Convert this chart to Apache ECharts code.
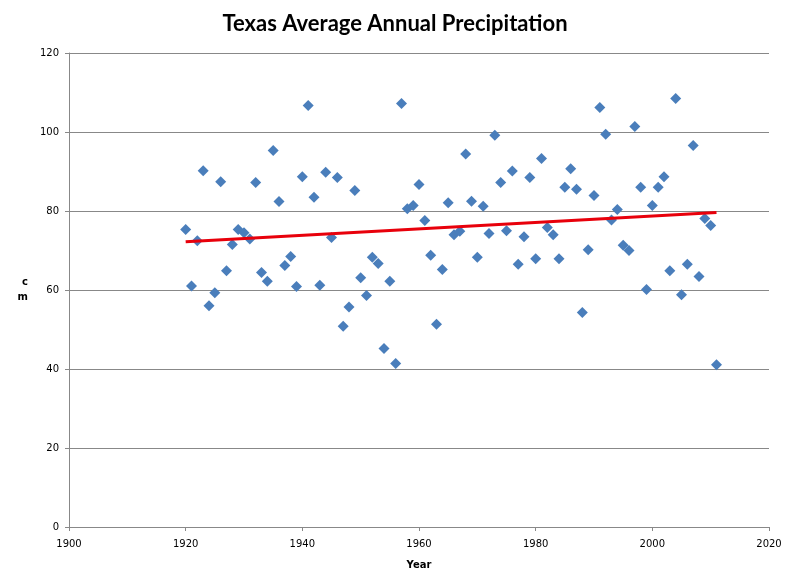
<!DOCTYPE html>
<html>
<head>
<meta charset="utf-8">
<script src="https://cdn.jsdelivr.net/npm/echarts@6/dist/echarts.min.js"></script>
<style>
html,body{margin:0;padding:0;background:#fff;}
#chart{width:790px;height:580px;}
</style>
</head>
<body>
<div id="chart"></div>
<script>
const years = [1920,1921,1922,1923,1924,1925,1926,1927,1928,1929,1930,1931,1932,1933,1934,1935,1936,1937,1938,1939,
1940,1941,1942,1943,1944,1945,1946,1947,1948,1949,1950,1951,1952,1953,1954,1955,1956,1957,1958,1959,
1960,1961,1962,1963,1964,1965,1966,1967,1968,1969,1970,1971,1972,1973,1974,1975,1976,1977,1978,1979,
1980,1981,1982,1983,1984,1985,1986,1987,1988,1989,1990,1991,1992,1993,1994,1995,1996,1997,1998,1999,
2000,2001,2002,2003,2004,2005,2006,2007,2008,2009,2010,2011];
const precipitation = [75.3,61.0,72.5,90.2,56.0,59.3,87.4,64.9,71.5,75.3,74.5,72.9,87.2,64.4,62.2,95.3,82.4,66.2,68.5,60.9,
88.7,106.7,83.5,61.2,89.8,73.3,88.5,50.8,55.7,85.2,63.1,58.6,68.3,66.7,45.2,62.2,41.4,107.2,80.6,81.4,
86.7,77.6,68.8,51.3,65.2,82.1,74.0,74.9,94.4,82.5,68.3,81.2,74.3,99.2,87.2,75.0,90.1,66.5,73.5,88.5,
67.9,93.3,75.8,74.0,67.9,86.0,90.7,85.5,54.3,70.2,83.9,106.2,99.4,77.7,80.4,71.3,70.0,101.4,86.0,60.1,
81.4,86.0,88.7,64.9,108.5,58.8,66.5,96.6,63.4,78.1,76.3,41.1];
const trendYears = [1920, 2011];
const trendValues = [72.2, 79.6];
const yTicks = [0,20,40,60,80,100,120];
const xTicks = [1900,1920,1940,1960,1980,2000,2020];

const chart = echarts.init(document.getElementById('chart'));
chart.setOption({
  animation:false,
  backgroundColor:'#ffffff',
  title:{
    text:'Texas Average Annual Precipitation',
    left:'center', top:8,
    textStyle:{fontFamily:'Lato', fontWeight:'bold', fontSize:22, color:'#000'}
  },
  grid:{left:69, right:21, top:53, bottom:53},
  xAxis:{
    type:'value', min:xTicks[0], max:xTicks[xTicks.length-1], interval:20,
    name:'Year', nameLocation:'middle', nameGap:33,
    nameTextStyle:{fontFamily:'DejaVu Sans', fontWeight:'bold', fontSize:10, color:'#000'},
    axisLine:{lineStyle:{color:'#888', width:1}},
    axisTick:{show:true, length:4, lineStyle:{color:'#888'}},
    axisLabel:{fontFamily:'DejaVu Sans', fontSize:10, color:'#000', margin:12, formatter:(v)=>String(v)},
    splitLine:{show:false}
  },
  yAxis:{
    type:'value', min:yTicks[0], max:yTicks[yTicks.length-1], interval:20,
    name:'c\nm', nameLocation:'middle', nameGap:41, nameRotate:0,
    nameTextStyle:{fontFamily:'DejaVu Sans', fontWeight:'bold', fontSize:10, color:'#000', lineHeight:15},
    axisLine:{show:true, lineStyle:{color:'#888', width:1}},
    axisTick:{show:true, length:4, lineStyle:{color:'#888'}},
    axisLabel:{fontFamily:'DejaVu Sans', fontSize:10, color:'#000', margin:10},
    splitLine:{show:true, lineStyle:{color:'#888', width:1}}
  },
  series:[
    {
      type:'scatter',
      data: years.map((y,i)=>[y, precipitation[i]]),
      symbol:'diamond', symbolSize:11,
      itemStyle:{color:'#4A7EBB', opacity:1},
      z:2
    },
    {
      type:'line',
      data: trendYears.map((y,i)=>[y, trendValues[i]]),
      symbol:'none',
      lineStyle:{color:'#E8000B', width:3},
      z:3
    }
  ]
});
</script>
</body>
</html>
